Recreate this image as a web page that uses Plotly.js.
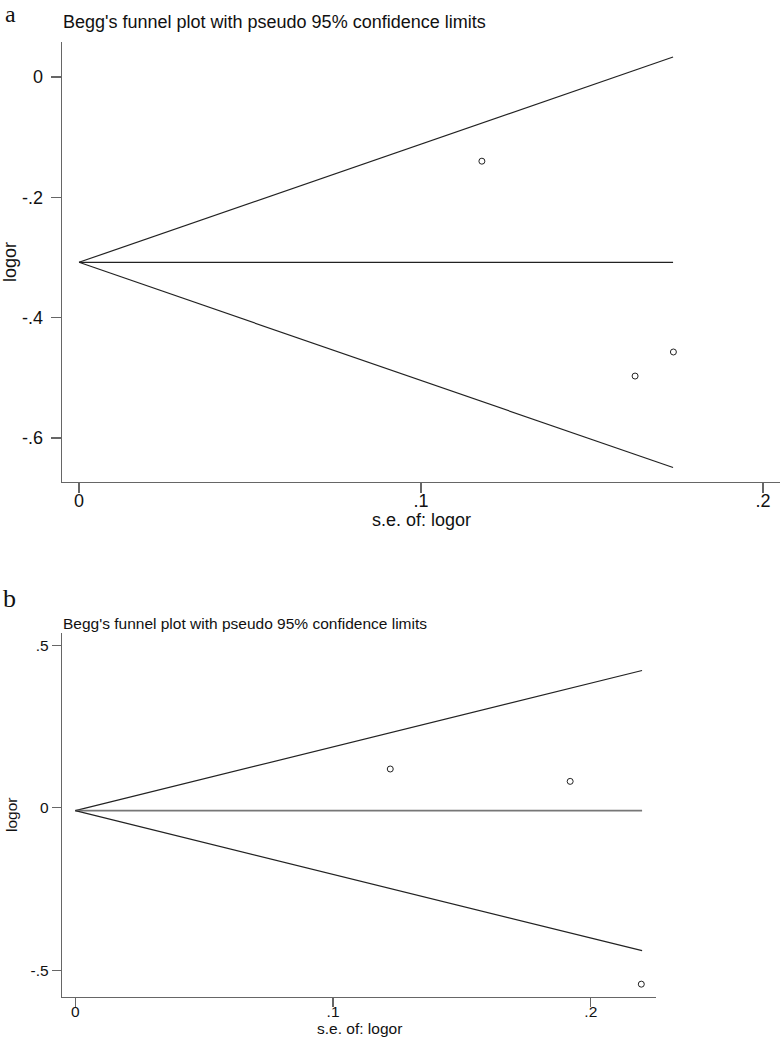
<!DOCTYPE html>
<html>
<head>
<meta charset="utf-8">
<script src="https://cdn.plot.ly/plotly-3.0.1.min.js"></script>
<style>
  html, body { margin: 0; padding: 0; background: #fff; }
  #chart { width: 780px; height: 1037px; }
</style>
</head>
<body>
<div id="chart"></div>
<script>
// panel a: study points
var seA = [0.1178, 0.1626, 0.1738];
var logorA = [-0.140, -0.497, -0.457];
// panel a: funnel (pooled estimate and pseudo 95% limits)
var funnelSeA = [0, 0.1737];
var pooledA = [-0.308, -0.308];
var upperA = [-0.308, 0.033];
var lowerA = [-0.308, -0.649];

// panel b
var seB = [0.1222, 0.1920, 0.2196];
var logorB = [0.119, 0.081, -0.543];
var funnelSeB = [0, 0.2199];
var pooledB = [-0.009, -0.009];
var upperB = [-0.009, 0.422];
var lowerB = [-0.009, -0.440];

var xTicksA = [0, 0.1, 0.2], xLabelsA = ['0', '.1', '.2'];
var yTicksA = [-0.6, -0.4, -0.2, 0], yLabelsA = ['-.6', '-.4', '-.2', '0'];
var xTicksB = [0, 0.1, 0.2], xLabelsB = ['0', '.1', '.2'];
var yTicksB = [-0.5, 0, 0.5], yLabelsB = ['-.5', '0', '.5'];

var FONT = 'Liberation Sans, Arial, Helvetica, sans-serif';
var SERIF = 'Liberation Serif, Times New Roman, serif';
var W = 780, H = 1037;

function line(x, y, xa, ya, color, width) {
    return {x: x, y: y, xaxis: xa, yaxis: ya, mode: 'lines',
            line: {color: color, width: width}, hoverinfo: 'skip'};
}
function pts(x, y, xa, ya) {
    return {x: x, y: y, xaxis: xa, yaxis: ya, mode: 'markers',
            marker: {symbol: 'circle-open', size: 6, color: '#222', line: {width: 1, color: '#222'}}};
}

var data = [
    line(funnelSeA, upperA, 'x', 'y', '#222', 1.2),
    line(funnelSeA, pooledA, 'x', 'y', '#222', 1.2),
    line(funnelSeA, lowerA, 'x', 'y', '#222', 1.2),
    pts(seA, logorA, 'x', 'y'),
    line(funnelSeB, upperB, 'x2', 'y2', '#222', 1.2),
    line(funnelSeB, pooledB, 'x2', 'y2', '#777', 1.6),
    line(funnelSeB, lowerB, 'x2', 'y2', '#222', 1.2),
    pts(seB, logorB, 'x2', 'y2')
];

function axis(extra, size, len, standoff) {
    var a = {
        showgrid: false, zeroline: false, showline: true,
        linecolor: '#666', linewidth: 1.3,
        ticks: 'outside', ticklen: len, tickcolor: '#666', tickwidth: 1.3,
        ticklabelstandoff: standoff,
        tickmode: 'array', fixedrange: true,
        tickfont: {family: FONT, size: size, color: '#111'}
    };
    for (var k in extra) a[k] = extra[k];
    return a;
}

function px(v) { return v / W; }
function py(v) { return 1 - v / H; }

function note(text, x, y, size, extra) {
    var a = {text: text, x: px(x), y: py(y), xref: 'paper', yref: 'paper', showarrow: false,
             xanchor: 'center', yanchor: 'middle', borderpad: 0,
             font: {family: FONT, size: size, color: '#111'}};
    for (var k in extra) a[k] = extra[k];
    return a;
}

var layout = {
    width: W, height: H,
    margin: {l: 0, r: 0, t: 0, b: 0},
    paper_bgcolor: '#fff', plot_bgcolor: '#fff',
    showlegend: false,
    xaxis: axis({domain: [px(62), px(780)], range: [-0.00497, 0.20497], anchor: 'y',
                 tickvals: xTicksA, ticktext: xLabelsA}, 18, 10, -8),
    yaxis: axis({domain: [py(482), py(42)], range: [-0.673, 0.058], anchor: 'x',
                 tickvals: yTicksA, ticktext: yLabelsA}, 18, 10, 4),
    xaxis2: axis({domain: [px(62), px(656)], range: [-0.00516, 0.2253], anchor: 'y2',
                  tickvals: xTicksB, ticktext: xLabelsB}, 15.5, 9, -9),
    yaxis2: axis({domain: [py(997), py(633)], range: [-0.5825, 0.5375], anchor: 'x2',
                  tickvals: yTicksB, ticktext: yLabelsB}, 15.5, 9, 0),
    annotations: [
        note('a', 10, 14, 24, {font: {family: SERIF, size: 24, color: '#111'}}),
        note("Begg's funnel plot with pseudo 95% confidence limits", 62, 22, 18, {xanchor: 'left'}),
        note('s.e. of: logor', 421, 520, 18),
        note('logor', 10, 262, 18, {textangle: -90}),
        note('b', 9, 598, 26, {font: {family: SERIF, size: 26, color: '#111'}}),
        note("Begg's funnel plot with pseudo 95% confidence limits", 62, 623, 15.5, {xanchor: 'left'}),
        note('s.e. of: logor', 359, 1037, 15.5, {yanchor: 'bottom', yshift: -1}),
        note('logor', 11, 815, 15.5, {textangle: -90})
    ]
};

Plotly.newPlot('chart', data, layout, {displayModeBar: false, staticPlot: true});
</script>
</body>
</html>
